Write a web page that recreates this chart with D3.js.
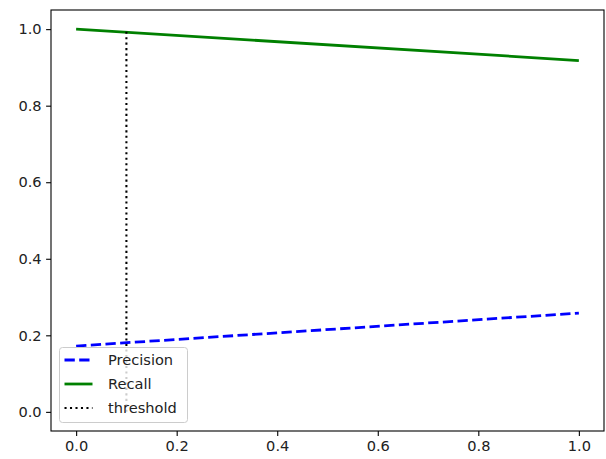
<!DOCTYPE html>
<meta charset="utf-8">
<html>
<script src="https://d3js.org/d3.v7.min.js"></script>
<style>
    body { margin: 0; background: #fff; }
    text { font-family: "DejaVu Sans", sans-serif; }
</style>
<body>
<div id="my_dataviz"></div>
<script>
    // data
    var xVals = [0.0, 1.0];
    var precision = [0.172, 0.258];
    var recall = [1.0, 0.918];
    var threshold = 0.1;
    var thresholdTop = 0.993;
    var ticks = [0.0, 0.2, 0.4, 0.6, 0.8, 1.0];
    var legendLabels = ["Precision", "Recall", "threshold"];

    var margin = { top: 10, right: 2, bottom: 28, left: 51 },
        width = 606 - margin.left - margin.right,
        height = 459 - margin.top - margin.bottom;

    var svg = d3.select("#my_dataviz")
        .append("svg")
        .attr("width", 606)
        .attr("height", 459)
        .append("g")
        .attr("transform", "translate(" + margin.left + "," + margin.top + ")");

    var x = d3.scaleLinear().domain([-0.05, 1.05]).range([0, width]);
    var y = d3.scaleLinear().domain([-0.05, 1.05]).range([height, 0]);

    // axes
    var xAxis = svg.append("g")
        .attr("transform", "translate(0," + height + ")")
        .call(d3.axisBottom(x).tickValues(ticks).tickFormat(d3.format(".1f"))
            .tickSizeInner(4.9).tickSizeOuter(0).tickPadding(4.5));
    var yAxis = svg.append("g")
        .call(d3.axisLeft(y).tickValues(ticks).tickFormat(d3.format(".1f"))
            .tickSizeInner(4.9).tickSizeOuter(0).tickPadding(4.5));
    [xAxis, yAxis].forEach(function (a) {
        a.select(".domain").remove();
        a.selectAll("line").attr("stroke", "#000").attr("stroke-width", 1.1);
        a.selectAll("text").style("font-size", "14.6px").attr("fill", "#222");
    });

    // frame
    svg.append("rect")
        .attr("width", width).attr("height", height)
        .attr("fill", "none").attr("stroke", "#000").attr("stroke-width", 1.1);

    var rows = xVals.map(function (v, i) { return { x: v, p: precision[i], r: recall[i] }; });

    var line = function (key) {
        return d3.line().x(function (d) { return x(d.x); }).y(function (d) { return y(d[key]); });
    };

    svg.append("path").datum(rows)
        .attr("fill", "none").attr("stroke", "#0000ff").attr("stroke-width", 2.78)
        .attr("stroke-dasharray", "10.3,4.4")
        .attr("d", line("p"));

    svg.append("path").datum(rows)
        .attr("fill", "none").attr("stroke", "#008000").attr("stroke-width", 2.78)
        .attr("d", line("r"));

    svg.append("line")
        .attr("x1", x(threshold)).attr("x2", x(threshold))
        .attr("y1", y(0)).attr("y2", y(thresholdTop))
        .attr("stroke", "#000").attr("stroke-width", 2.08)
        .attr("stroke-dasharray", "2.08,3.4");

    // legend
    var leg = svg.append("g").attr("transform", "translate(" + (59.5 - margin.left) + "," + (347.5 - margin.top) + ")");
    leg.append("rect")
        .attr("width", 128).attr("height", 75).attr("rx", 3)
        .attr("fill", "#fff").attr("fill-opacity", 0.8)
        .attr("stroke", "#cccccc").attr("stroke-width", 1);
    var styles = [
        { color: "#0000ff", dash: "10.3,4.4" },
        { color: "#008000", dash: null },
        { color: "#000", dash: "2.08,3.4" }
    ];
    legendLabels.forEach(function (label, i) {
        var cy = 12.5 + i * 24;
        leg.append("line")
            .attr("x1", 5).attr("x2", 33).attr("y1", cy).attr("y2", cy)
            .attr("stroke", styles[i].color)
            .attr("stroke-width", i === 2 ? 2.08 : 2.78)
            .attr("stroke-dasharray", styles[i].dash);
        leg.append("text")
            .attr("x", 48.5).attr("y", cy).attr("dy", "0.35em")
            .style("font-size", "14.6px").attr("fill", "#222")
            .text(label);
    });
</script>
</body>
</html>
